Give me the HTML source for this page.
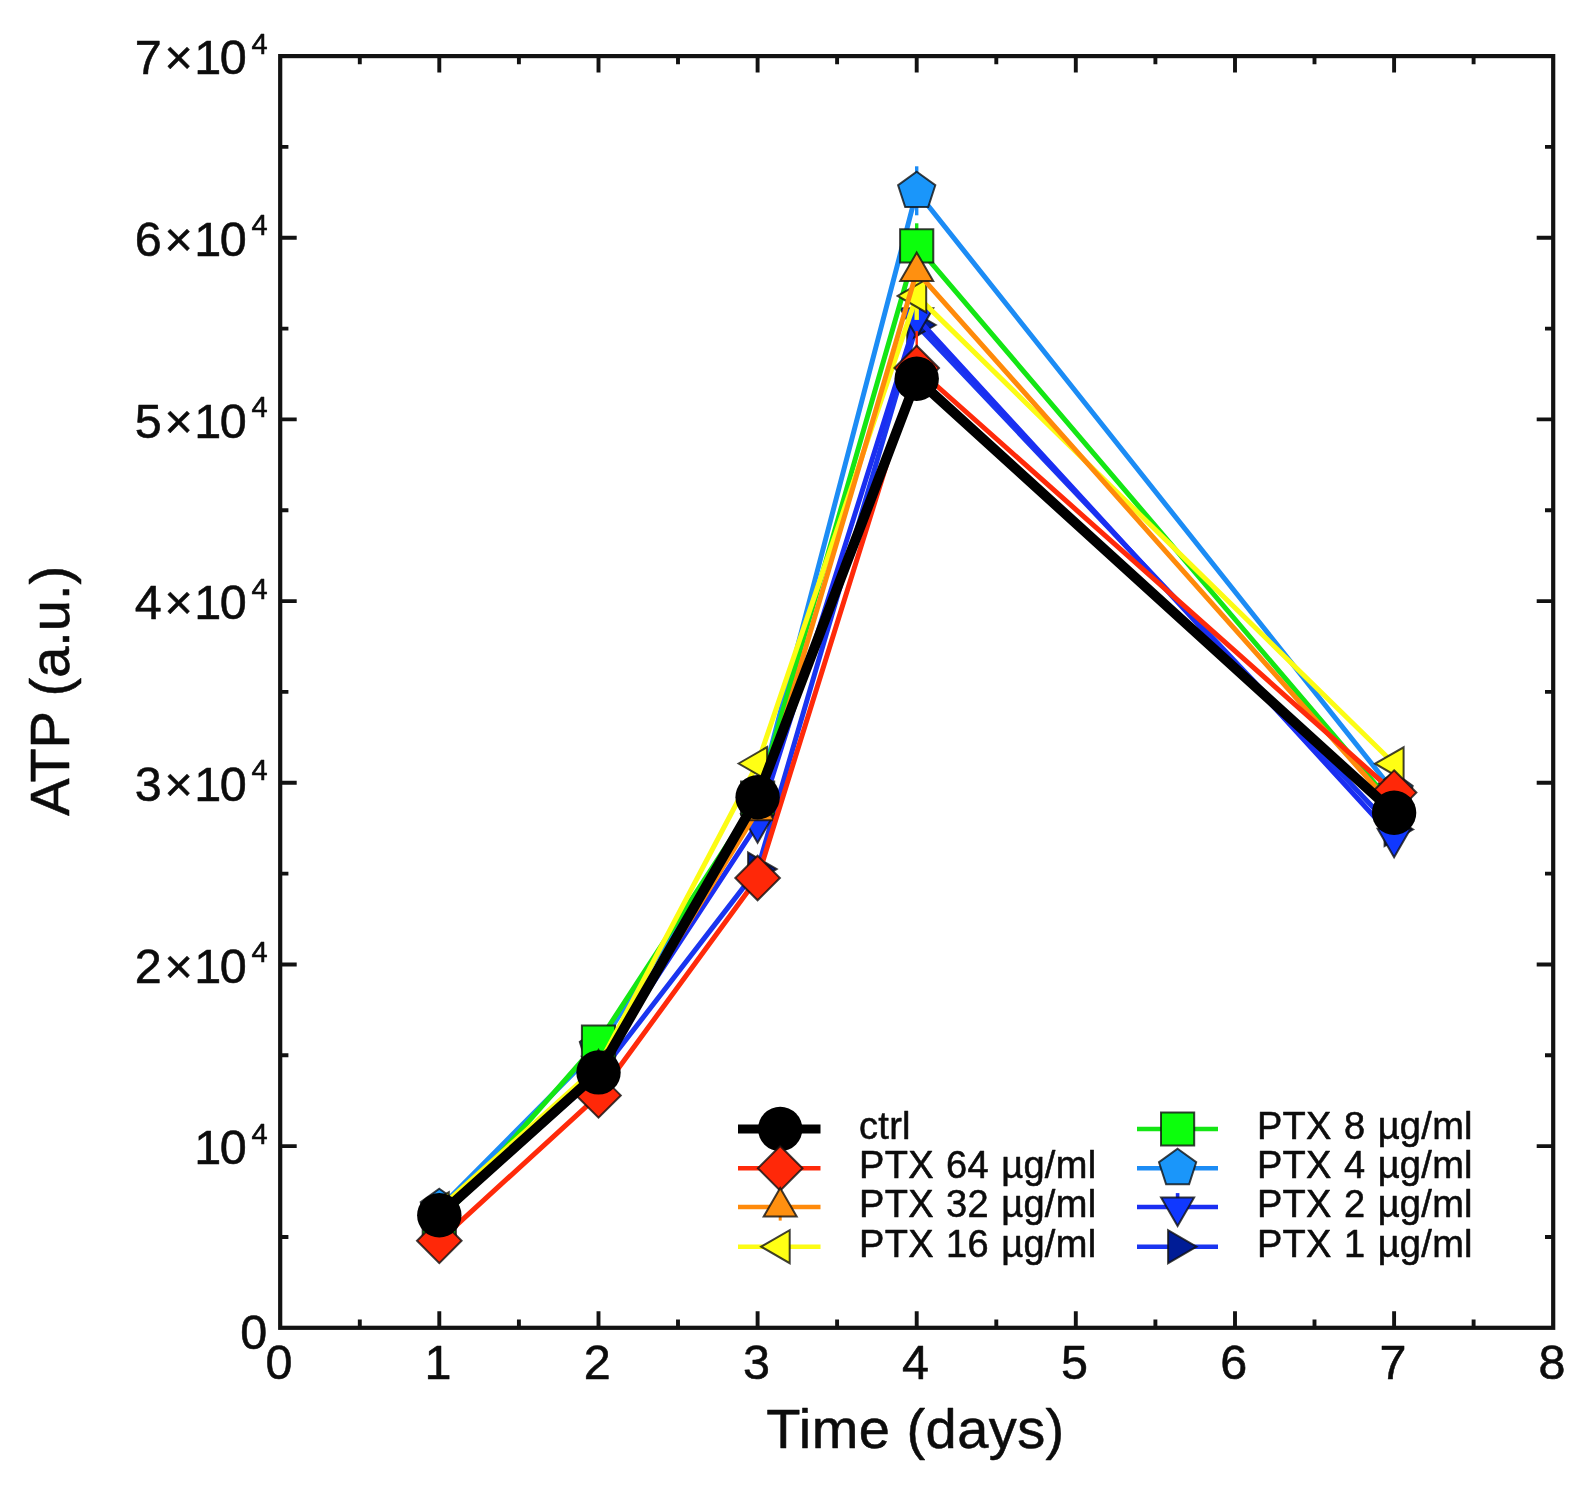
<!DOCTYPE html>
<html lang="en"><head><meta charset="utf-8"><title>ATP vs Time</title>
<style>html,body{margin:0;padding:0;background:#fff}svg{display:block;filter:blur(0.75px)}text{font-family:"Liberation Sans",Arial,Helvetica,sans-serif;fill:#0c0c0c;stroke:#0c0c0c;stroke-width:0.55px;stroke-linejoin:round}</style></head><body>
<svg width="1595" height="1490" viewBox="0 0 1595 1490">
<rect width="1595" height="1490" fill="#fff"/>
<g id="series">
<g><polyline points="439.3,1217.0 598.5,1075.3 757.6,869.1 916.7,325.0 1394.1,829.5" fill="none" stroke="#1a35f0" stroke-width="5.0" stroke-linejoin="round" stroke-linecap="butt"/>
<polygon points="458.3,1217.0 429.8,1233.4 429.8,1200.5" fill="#001c96" stroke="#101010" stroke-opacity="0.8" stroke-width="2.0" stroke-linejoin="miter"/>
<polygon points="617.5,1075.3 589.0,1091.7 589.0,1058.8" fill="#001c96" stroke="#101010" stroke-opacity="0.8" stroke-width="2.0" stroke-linejoin="miter"/>
<polygon points="776.6,869.1 748.1,885.5 748.1,852.6" fill="#001c96" stroke="#101010" stroke-opacity="0.8" stroke-width="2.0" stroke-linejoin="miter"/>
<polygon points="935.7,325.0 907.2,341.4 907.2,308.5" fill="#001c96" stroke="#101010" stroke-opacity="0.8" stroke-width="2.0" stroke-linejoin="miter"/>
<polygon points="1413.1,829.5 1384.6,845.9 1384.6,813.0" fill="#001c96" stroke="#101010" stroke-opacity="0.8" stroke-width="2.0" stroke-linejoin="miter"/>
</g>
<g><polyline points="439.3,1218.8 598.5,1066.2 757.6,823.7 916.7,317.7 1394.1,838.2" fill="none" stroke="#1a2ef2" stroke-width="5.0" stroke-linejoin="round" stroke-linecap="butt"/>
<polygon points="439.3,1237.8 422.9,1209.3 455.8,1209.3" fill="#1038ff" stroke="#101010" stroke-opacity="0.8" stroke-width="2.0" stroke-linejoin="miter"/>
<polygon points="598.5,1085.2 582.0,1056.7 614.9,1056.7" fill="#1038ff" stroke="#101010" stroke-opacity="0.8" stroke-width="2.0" stroke-linejoin="miter"/>
<polygon points="757.6,842.7 741.1,814.2 774.0,814.2" fill="#1038ff" stroke="#101010" stroke-opacity="0.8" stroke-width="2.0" stroke-linejoin="miter"/>
<polygon points="916.7,336.7 900.2,308.2 933.2,308.2" fill="#1038ff" stroke="#101010" stroke-opacity="0.8" stroke-width="2.0" stroke-linejoin="miter"/>
<polygon points="1394.1,857.2 1377.6,828.7 1410.5,828.7" fill="#1038ff" stroke="#101010" stroke-opacity="0.8" stroke-width="2.0" stroke-linejoin="miter"/>
</g>
<g><polyline points="439.3,1208.3 598.5,1048.0 757.6,799.1 916.7,191.3 1394.1,791.9" fill="none" stroke="#1c8cf5" stroke-width="5.0" stroke-linejoin="round" stroke-linecap="butt"/>
<path d="M916.7 166.3V215.3" stroke="#1c8cf5" stroke-width="3.4" fill="none"/>
<polygon points="439.3,1188.7 458.0,1202.2 450.8,1224.1 427.8,1224.1 420.7,1202.2" fill="#1a96fa" stroke="#101010" stroke-opacity="0.8" stroke-width="2.0" stroke-linejoin="miter"/>
<polygon points="598.5,1028.4 617.1,1042.0 610.0,1063.9 586.9,1063.9 579.8,1042.0" fill="#1a96fa" stroke="#101010" stroke-opacity="0.8" stroke-width="2.0" stroke-linejoin="miter"/>
<polygon points="757.6,779.5 776.2,793.1 769.1,815.0 746.1,815.0 738.9,793.1" fill="#1a96fa" stroke="#101010" stroke-opacity="0.8" stroke-width="2.0" stroke-linejoin="miter"/>
<polygon points="916.7,171.7 935.3,185.2 928.2,207.1 905.2,207.1 898.1,185.2" fill="#1a96fa" stroke="#101010" stroke-opacity="0.8" stroke-width="2.0" stroke-linejoin="miter"/>
<polygon points="1394.1,772.3 1412.7,785.8 1405.6,807.7 1382.6,807.7 1375.4,785.8" fill="#1a96fa" stroke="#101010" stroke-opacity="0.8" stroke-width="2.0" stroke-linejoin="miter"/>
</g>
<g><polyline points="439.3,1222.8 598.5,1042.0 757.6,798.2 916.7,245.8 1394.1,806.0" fill="none" stroke="#14e614" stroke-width="5.0" stroke-linejoin="round" stroke-linecap="butt"/>
<path d="M916.7 223.3V268.3" stroke="#14e614" stroke-width="3.4" fill="none"/>
<polygon points="422.7,1206.2 455.9,1206.2 455.9,1239.4 422.7,1239.4" fill="#0cff0c" stroke="#101010" stroke-opacity="0.8" stroke-width="2.0" stroke-linejoin="miter"/>
<polygon points="581.9,1025.4 615.1,1025.4 615.1,1058.6 581.9,1058.6" fill="#0cff0c" stroke="#101010" stroke-opacity="0.8" stroke-width="2.0" stroke-linejoin="miter"/>
<polygon points="741.0,781.6 774.2,781.6 774.2,814.8 741.0,814.8" fill="#0cff0c" stroke="#101010" stroke-opacity="0.8" stroke-width="2.0" stroke-linejoin="miter"/>
<polygon points="900.1,229.2 933.3,229.2 933.3,262.4 900.1,262.4" fill="#0cff0c" stroke="#101010" stroke-opacity="0.8" stroke-width="2.0" stroke-linejoin="miter"/>
<polygon points="1377.5,789.4 1410.7,789.4 1410.7,822.6 1377.5,822.6" fill="#0cff0c" stroke="#101010" stroke-opacity="0.8" stroke-width="2.0" stroke-linejoin="miter"/>
</g>
<g><polyline points="439.3,1208.7 598.5,1065.6 757.6,763.5 916.7,295.9 1394.1,763.7" fill="none" stroke="#fcfc14" stroke-width="5.0" stroke-linejoin="round" stroke-linecap="butt"/>
<path d="M916.7 269.9V319.9" stroke="#fcfc14" stroke-width="4.4" fill="none"/>
<polygon points="420.3,1208.7 448.8,1192.3 448.8,1225.2" fill="#ffff14" stroke="#101010" stroke-opacity="0.8" stroke-width="2.0" stroke-linejoin="miter"/>
<polygon points="579.5,1065.6 608.0,1049.2 608.0,1082.1" fill="#ffff14" stroke="#101010" stroke-opacity="0.8" stroke-width="2.0" stroke-linejoin="miter"/>
<polygon points="738.6,763.5 767.1,747.1 767.1,780.0" fill="#ffff14" stroke="#101010" stroke-opacity="0.8" stroke-width="2.0" stroke-linejoin="miter"/>
<polygon points="897.7,295.9 926.2,279.5 926.2,312.4" fill="#ffff14" stroke="#101010" stroke-opacity="0.8" stroke-width="2.0" stroke-linejoin="miter"/>
<polygon points="1375.1,763.7 1403.6,747.3 1403.6,780.2" fill="#ffff14" stroke="#101010" stroke-opacity="0.8" stroke-width="2.0" stroke-linejoin="miter"/>
</g>
<g><polyline points="439.3,1217.0 598.5,1068.9 757.6,810.8 916.7,271.6 1394.1,808.0" fill="none" stroke="#ff8a0a" stroke-width="5.0" stroke-linejoin="round" stroke-linecap="butt"/>
<polygon points="439.3,1198.0 455.8,1226.5 422.9,1226.5" fill="#ff9010" stroke="#101010" stroke-opacity="0.8" stroke-width="2.0" stroke-linejoin="miter"/>
<polygon points="598.5,1049.9 614.9,1078.4 582.0,1078.4" fill="#ff9010" stroke="#101010" stroke-opacity="0.8" stroke-width="2.0" stroke-linejoin="miter"/>
<polygon points="757.6,791.8 774.0,820.3 741.1,820.3" fill="#ff9010" stroke="#101010" stroke-opacity="0.8" stroke-width="2.0" stroke-linejoin="miter"/>
<polygon points="916.7,252.6 933.2,281.1 900.2,281.1" fill="#ff9010" stroke="#101010" stroke-opacity="0.8" stroke-width="2.0" stroke-linejoin="miter"/>
<polygon points="1394.1,789.0 1410.5,817.5 1377.6,817.5" fill="#ff9010" stroke="#101010" stroke-opacity="0.8" stroke-width="2.0" stroke-linejoin="miter"/>
</g>
<g><polyline points="439.3,1240.8 598.5,1095.4 757.6,878.0 916.7,368.0 1394.1,792.6" fill="none" stroke="#ff2a0a" stroke-width="5.0" stroke-linejoin="round" stroke-linecap="butt"/>
<path d="M916.7 331.0V392.0" stroke="#ff2a0a" stroke-width="2.4" fill="none"/>
<polygon points="439.3,1218.5 461.6,1240.8 439.3,1263.1 417.0,1240.8" fill="#ff2808" stroke="#101010" stroke-opacity="0.8" stroke-width="2.0" stroke-linejoin="miter"/>
<polygon points="598.5,1073.1 620.8,1095.4 598.5,1117.7 576.2,1095.4" fill="#ff2808" stroke="#101010" stroke-opacity="0.8" stroke-width="2.0" stroke-linejoin="miter"/>
<polygon points="757.6,855.7 779.9,878.0 757.6,900.3 735.3,878.0" fill="#ff2808" stroke="#101010" stroke-opacity="0.8" stroke-width="2.0" stroke-linejoin="miter"/>
<polygon points="916.7,345.7 939.0,368.0 916.7,390.3 894.4,368.0" fill="#ff2808" stroke="#101010" stroke-opacity="0.8" stroke-width="2.0" stroke-linejoin="miter"/>
<polygon points="1394.1,770.3 1416.4,792.6 1394.1,814.9 1371.8,792.6" fill="#ff2808" stroke="#101010" stroke-opacity="0.8" stroke-width="2.0" stroke-linejoin="miter"/>
</g>
<g><polyline points="439.3,1215.3 598.5,1072.4 757.6,797.3 916.7,378.7 1394.1,812.8" fill="none" stroke="#000" stroke-width="10.0" stroke-linejoin="round" stroke-linecap="butt"/>
<circle cx="439.3" cy="1215.3" r="22.2" fill="#000"/>
<circle cx="598.5" cy="1072.4" r="22.2" fill="#000"/>
<circle cx="757.6" cy="797.3" r="22.2" fill="#000"/>
<circle cx="916.7" cy="378.7" r="22.2" fill="#000"/>
<circle cx="1394.1" cy="812.8" r="22.2" fill="#000"/>
</g>
</g>
<rect x="280.2" y="56.1" width="1273.0" height="1271.7" fill="none" stroke="#121212" stroke-width="4.2"/>
<path d="M359.8 1327.8v-8.2M359.8 56.1v8.2 M439.3 1327.8v-16.5M439.3 56.1v16.5 M518.9 1327.8v-8.2M518.9 56.1v8.2 M598.5 1327.8v-16.5M598.5 56.1v16.5 M678.0 1327.8v-8.2M678.0 56.1v8.2 M757.6 1327.8v-16.5M757.6 56.1v16.5 M837.1 1327.8v-8.2M837.1 56.1v8.2 M916.7 1327.8v-16.5M916.7 56.1v16.5 M996.3 1327.8v-8.2M996.3 56.1v8.2 M1075.8 1327.8v-16.5M1075.8 56.1v16.5 M1155.4 1327.8v-8.2M1155.4 56.1v8.2 M1235.0 1327.8v-16.5M1235.0 56.1v16.5 M1314.5 1327.8v-8.2M1314.5 56.1v8.2 M1394.1 1327.8v-16.5M1394.1 56.1v16.5 M1473.6 1327.8v-8.2M1473.6 56.1v8.2 M280.2 1237.0h8.2M1553.2 1237.0h-8.2 M280.2 1146.1h16.5M1553.2 1146.1h-16.5 M280.2 1055.3h8.2M1553.2 1055.3h-8.2 M280.2 964.5h16.5M1553.2 964.5h-16.5 M280.2 873.6h8.2M1553.2 873.6h-8.2 M280.2 782.8h16.5M1553.2 782.8h-16.5 M280.2 691.9h8.2M1553.2 691.9h-8.2 M280.2 601.1h16.5M1553.2 601.1h-16.5 M280.2 510.3h8.2M1553.2 510.3h-8.2 M280.2 419.4h16.5M1553.2 419.4h-16.5 M280.2 328.6h8.2M1553.2 328.6h-8.2 M280.2 237.8h16.5M1553.2 237.8h-16.5 M280.2 146.9h8.2M1553.2 146.9h-8.2" stroke="#121212" stroke-width="3.9" fill="none"/>
<g font-size="48.5" text-anchor="middle">
<text x="279.0" y="1378.6">0</text>
<text x="438.1" y="1378.6">1</text>
<text x="597.2" y="1378.6">2</text>
<text x="756.4" y="1378.6">3</text>
<text x="915.5" y="1378.6">4</text>
<text x="1074.6" y="1378.6">5</text>
<text x="1233.8" y="1378.6">6</text>
<text x="1392.9" y="1378.6">7</text>
<text x="1552.0" y="1378.6">8</text>
</g>
<g font-size="48.5" text-anchor="end">
<text x="267.3" y="1349.0">0</text>
<text x="246.7" y="1164.3">1<tspan dx="-1.5">0</tspan></text><text x="267.6" y="1143.5" font-size="29">4</text>
<text x="246.7" y="982.7">2<tspan dx="2.8">×</tspan><tspan dx="1.4">1</tspan><tspan dx="-1.5">0</tspan></text><text x="267.6" y="961.9" font-size="29">4</text>
<text x="246.7" y="801.0">3<tspan dx="2.8">×</tspan><tspan dx="1.4">1</tspan><tspan dx="-1.5">0</tspan></text><text x="267.6" y="780.2" font-size="29">4</text>
<text x="246.7" y="619.3">4<tspan dx="2.8">×</tspan><tspan dx="1.4">1</tspan><tspan dx="-1.5">0</tspan></text><text x="267.6" y="598.5" font-size="29">4</text>
<text x="246.7" y="437.6">5<tspan dx="2.8">×</tspan><tspan dx="1.4">1</tspan><tspan dx="-1.5">0</tspan></text><text x="267.6" y="416.8" font-size="29">4</text>
<text x="246.7" y="256.0">6<tspan dx="2.8">×</tspan><tspan dx="1.4">1</tspan><tspan dx="-1.5">0</tspan></text><text x="267.6" y="235.2" font-size="29">4</text>
<text x="246.7" y="74.3">7<tspan dx="2.8">×</tspan><tspan dx="1.4">1</tspan><tspan dx="-1.5">0</tspan></text><text x="267.6" y="53.5" font-size="29">4</text>
</g>
<text x="915.5" y="1447.5" font-size="56" letter-spacing="0.45" text-anchor="middle">Time (days)</text>
<text transform="translate(68.9 690.8) rotate(-90)" font-size="56" text-anchor="middle">ATP (a.u.)</text>
<g id="legend" font-size="38" word-spacing="1.4" letter-spacing="0.3">
<path d="M738 1129.0H820.5" stroke="#000" stroke-width="8.8" fill="none"/>
<circle cx="780.2" cy="1129.0" r="22.2" fill="#000"/>
<text x="859.0" y="1139.0">ctrl</text>
<path d="M738 1168.3H820.5" stroke="#ff2a0a" stroke-width="4.5" fill="none"/>
<polygon points="780.2,1146.0 802.5,1168.3 780.2,1190.6 757.9,1168.3" fill="#ff2808" stroke="#101010" stroke-opacity="0.8" stroke-width="2.0" stroke-linejoin="miter"/>
<text x="859.0" y="1178.3">PTX 64 µg/ml</text>
<path d="M738 1207.1H820.5" stroke="#ff8a0a" stroke-width="4.5" fill="none"/>
<path d="M780.2 1207.1V1220.6" stroke="#ff8a0a" stroke-width="3" fill="none"/>
<polygon points="780.2,1188.1 796.7,1216.6 763.7,1216.6" fill="#ff9010" stroke="#101010" stroke-opacity="0.8" stroke-width="2.0" stroke-linejoin="miter"/>
<text x="859.0" y="1217.1">PTX 32 µg/ml</text>
<path d="M738 1246.7H820.5" stroke="#fcfc14" stroke-width="4.5" fill="none"/>
<polygon points="761.2,1246.7 789.7,1230.2 789.7,1263.2" fill="#ffff14" stroke="#101010" stroke-opacity="0.8" stroke-width="2.0" stroke-linejoin="miter"/>
<text x="859.0" y="1256.7">PTX 16 µg/ml</text>
<path d="M1137 1129.0H1218" stroke="#14e614" stroke-width="4.5" fill="none"/>
<polygon points="1161.0,1112.4 1194.2,1112.4 1194.2,1145.6 1161.0,1145.6" fill="#0cff0c" stroke="#101010" stroke-opacity="0.8" stroke-width="2.0" stroke-linejoin="miter"/>
<text x="1256.9" y="1139.0">PTX 8 µg/ml</text>
<path d="M1137 1168.3H1218" stroke="#1c8cf5" stroke-width="4.5" fill="none"/>
<polygon points="1177.6,1148.7 1196.2,1162.2 1189.1,1184.2 1166.1,1184.2 1159.0,1162.2" fill="#1a96fa" stroke="#101010" stroke-opacity="0.8" stroke-width="2.0" stroke-linejoin="miter"/>
<text x="1256.9" y="1178.3">PTX 4 µg/ml</text>
<path d="M1137 1207.1H1218" stroke="#1a2ef2" stroke-width="4.5" fill="none"/>
<path d="M1177.6 1193.1V1207.1" stroke="#1a2ef2" stroke-width="3.6" fill="none"/>
<polygon points="1177.6,1226.1 1161.1,1197.6 1194.1,1197.6" fill="#1038ff" stroke="#101010" stroke-opacity="0.8" stroke-width="2.0" stroke-linejoin="miter"/>
<text x="1256.9" y="1217.1">PTX 2 µg/ml</text>
<path d="M1137 1246.7H1218" stroke="#1a35f0" stroke-width="4.5" fill="none"/>
<polygon points="1196.6,1246.7 1168.1,1263.2 1168.1,1230.2" fill="#001c96" stroke="#101010" stroke-opacity="0.8" stroke-width="2.0" stroke-linejoin="miter"/>
<text x="1256.9" y="1256.7">PTX 1 µg/ml</text>
</g>
</svg></body></html>
